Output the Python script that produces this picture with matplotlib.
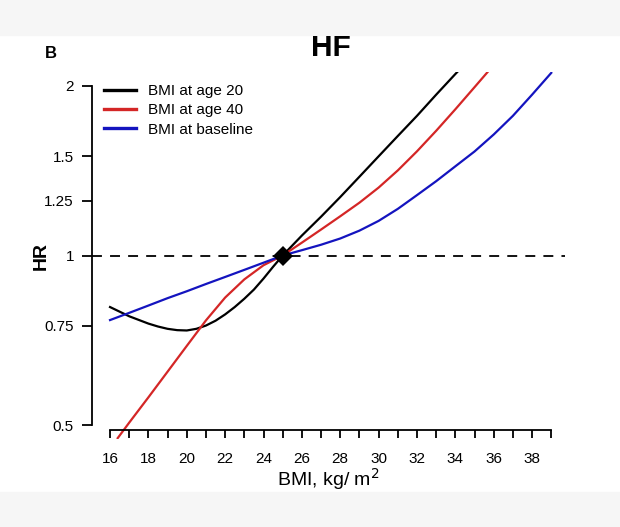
import matplotlib
matplotlib.use("Agg")
import matplotlib.pyplot as plt
from matplotlib.patches import Rectangle
from matplotlib.ticker import FixedLocator, NullLocator

plt.rcParams["font.family"] = ["Liberation Sans", "DejaVu Sans"]

# --- values -----------------------------------------------------------------
bmi_age20 = [16, 17, 18, 18.5, 19, 19.5, 20, 20.5, 21, 21.5, 22, 22.5, 23,
             23.5, 24, 24.5, 25, 26, 27, 28, 29, 30, 31, 32, 33, 34, 34.4]
hr_age20 = [0.81, 0.78, 0.757, 0.748, 0.741, 0.737, 0.736, 0.741, 0.751,
            0.766, 0.786, 0.81, 0.838, 0.87, 0.91, 0.955, 1.0, 1.085, 1.172,
            1.27, 1.38, 1.50, 1.63, 1.77, 1.93, 2.10, 2.17]

bmi_age40 = [16.4, 17, 18, 19, 20, 21, 22, 23, 24, 25, 26, 27, 28, 29, 30,
             31, 32, 33, 34, 35, 35.8]
hr_age40 = [0.474, 0.505, 0.560, 0.622, 0.691, 0.767, 0.842, 0.907, 0.961,
            1.0, 1.054, 1.112, 1.174, 1.241, 1.320, 1.416, 1.531, 1.665,
            1.818, 1.990, 2.14]

bmi_base = [16, 17, 18, 19, 20, 21, 22, 23, 24, 25, 26, 27, 28, 29, 30, 31,
            32, 33, 34, 35, 36, 37, 38, 39]
hr_base = [0.768, 0.791, 0.815, 0.840, 0.864, 0.890, 0.916, 0.943, 0.971, 1.0,
           1.022, 1.045, 1.072, 1.107, 1.152, 1.21, 1.28, 1.355, 1.44, 1.53,
           1.64, 1.77, 1.93, 2.11]

ref_bmi = [25]
ref_hr = [1]

y_ticks = [0.5, 0.75, 1, 1.25, 1.5, 2]
y_labels = ["0.5", "0.75", "1", "1.25", "1.5", "2"]
x_minor = list(range(16, 40))
x_major = list(range(16, 40, 2))

RED = "#d42626"
BLUE = "#1414bf"

fig = plt.figure(figsize=(6.2, 5.27), dpi=100)
# light grey bands at the top / bottom of the original screenshot
fig.patches.append(Rectangle((0, 1 - 35 / 527), 1, 35 / 527,
                             transform=fig.transFigure, color="#f6f6f6", zorder=0))
fig.patches.append(Rectangle((0, 0), 1, 35 / 527,
                             transform=fig.transFigure, color="#f6f6f6", zorder=0))

ax = fig.add_axes([0.1484, 0.1677, 0.763, 0.6949])
ax.set_facecolor("none")

ax.plot(bmi_age20, hr_age20, color="black", lw=1.6, label="BMI at age 20")
ax.plot(bmi_age40, hr_age40, color=RED, lw=1.6, label="BMI at age 40")
ax.plot(bmi_base, hr_base, color=BLUE, lw=1.6, label="BMI at baseline")
ax.axhline(1, color="black", lw=1.3, ls=(0, (5.5, 4.5)))
ax.plot(ref_bmi, ref_hr, marker="D", ms=10.5, color="black", mew=0, zorder=5)

ax.set_yscale("log")
ax.set_xlim(15.06, 39.72)
ax.set_ylim(0.473, 2.114)

ax.yaxis.set_major_locator(FixedLocator(y_ticks))
ax.yaxis.set_minor_locator(NullLocator())
ax.set_yticklabels(y_labels)
ax.xaxis.set_major_locator(FixedLocator(x_major))
ax.xaxis.set_minor_locator(FixedLocator(x_minor))

for side in ("top", "right"):
    ax.spines[side].set_visible(False)
ax.spines["left"].set_bounds(0.5, 2)
ax.spines["bottom"].set_bounds(16, 39)
ax.spines["bottom"].set_position(("axes", 0.0235))
ax.spines["left"].set_linewidth(1.3)
ax.spines["bottom"].set_linewidth(1.3)

ax.tick_params(axis="y", which="major", direction="out", length=7, width=1.3,
               pad=6, labelsize=11)
ax.tick_params(axis="x", which="both", direction="out", length=6, width=1.3,
               pad=10, labelsize=11)

ax.set_xlabel("BMI, kg/ m$^2$", fontsize=14, labelpad=0)
ax.set_ylabel("HR", fontsize=14, fontweight="bold")
ax.yaxis.set_label_coords(-0.089, 0.5)

fig.text(331 / 620, 1 - 48 / 527, "HF", fontsize=21.5, fontweight="bold",
         ha="center", va="center")
fig.text(51 / 620, 1 - 54 / 527, "B", fontsize=12, fontweight="bold",
         ha="center", va="center")

ax.legend(loc="upper left", bbox_to_anchor=(104 / 620, 1 - 84 / 527),
          bbox_transform=fig.transFigure, frameon=False, fontsize=11,
          handlelength=2.1, handletextpad=0.8, labelspacing=0.35,
          borderpad=0, borderaxespad=0)
for line in ax.get_legend().get_lines():
    line.set_linewidth(2.4)

fig.savefig("out.png", dpi=100)
